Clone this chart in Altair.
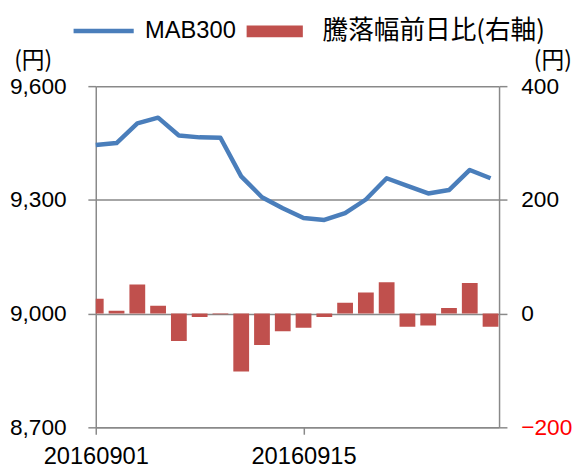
import json
import altair as alt
import pandas as pd

dates = ["20160901", "20160902", "20160905", "20160906", "20160907", "20160908",
         "20160909", "20160912", "20160913", "20160914", "20160915", "20160916",
         "20160920", "20160921", "20160923", "20160926", "20160927", "20160928",
         "20160929", "20160930"]
mab300 = [9445, 9450, 9502, 9517, 9470, 9465, 9464, 9362, 9307, 9278,
          9252, 9247, 9265, 9301, 9357, 9337, 9317, 9326, 9379, 9357]
change = [26, 5, 51, 14, -48, -6, -1, -102, -55, -31,
          -25, -6, 19, 37, 55, -23, -21, 10, 54, -23]
series_line = "MAB300"
series_bar = "騰落幅前日比(右軸)"
left_ticks = [8700, 9000, 9300, 9600]
right_ticks = [-200, 0, 200, 400]
x_label_idx = [0, 10]

BLUE = "#4A7EBB"
RED = "#C0504D"
GRAY = "#898989"
LATIN = "Liberation Sans"
CJK = "Noto Sans CJK JP"

df = pd.DataFrame({
    "idx": list(range(len(dates))),
    "date": dates,
    "mab": mab300,
    "chg": change,
    "zero": [0] * len(dates),
    "s1": [series_line] * len(dates),
    "s2": [series_bar] * len(dates),
})

label_expr = json.dumps(dates) + "[datum.value]"

x_enc = alt.X(
    "idx:Q",
    scale=alt.Scale(domain=[0, 19.41], nice=False, zero=False, padding=0),
    axis=alt.Axis(values=x_label_idx, labelExpr=label_expr, title=None, grid=False,
                  tickSize=7, labelPadding=11, labelFontSize=24, labelFont=LATIN,
                  labelFlush=False, labelOverlap=False),
)

base = alt.Chart(df)

bars = base.mark_bar(size=16, clip=True, color=RED).encode(
    x=x_enc,
    y=alt.Y("chg:Q",
            scale=alt.Scale(domain=[-200, 400], nice=False),
            axis=alt.Axis(orient="right", values=right_ticks, format=".0f", grid=False,
                          tickSize=8, labelPadding=14, title="(円)", titleAngle=0,
                          titleX=54, titleY=-26, titleAlign="center", titleBaseline="middle",
                          labelColor={"condition": {"test": "datum.value < 0", "value": "#FF0000"},
                                      "value": "#000000"})),
    y2="zero:Q",
    fill=alt.Fill("s2:N", scale=alt.Scale(domain=[series_bar], range=[RED]),
                  legend=alt.Legend(orient="none", legendX=153, legendY=-84, title=None,
                                    symbolType="M-1,-0.21H1V0.21H-1Z", symbolSize=3249,
                                    symbolOpacity=1, symbolStrokeWidth=0,
                                    labelFont=CJK, labelFontSize=26, labelOffset=20,
                                    labelLimit=400, labelColor="#000000", padding=0)),
)

line = base.mark_line(strokeWidth=4.5, strokeJoin="round").encode(
    x=x_enc,
    y=alt.Y("mab:Q",
            scale=alt.Scale(domain=[8700, 9600], nice=False, zero=False),
            axis=alt.Axis(orient="left", values=left_ticks, format=",.0f", grid=True,
                          gridColor=GRAY, gridWidth=1.5, tickSize=8, labelPadding=22,
                          title="(円)", titleAngle=0, titleX=-64, titleY=-26,
                          titleAlign="center", titleBaseline="middle")),
    color=alt.Color("s1:N", scale=alt.Scale(domain=[series_line], range=[BLUE]),
                    legend=alt.Legend(orient="none", legendX=-25, legendY=-89, title=None,
                                      symbolType="stroke", symbolSize=3721,
                                      symbolStrokeWidth=4.5, symbolOpacity=1,
                                      labelFont=LATIN, labelFontSize=24, labelOffset=9,
                                      labelLimit=300, labelColor="#000000", padding=0)),
)

chart = (
    alt.layer(bars, line)
    .resolve_scale(y="independent")
    .properties(
        width=409,
        height=346,
        autosize=alt.AutoSizeParams(type="none"),
        padding={"left": 89, "top": 76, "right": 76, "bottom": 40},
    )
    .configure_view(strokeWidth=0)
    .configure_axis(
        domainColor=GRAY, tickColor=GRAY, domainWidth=1.5, tickWidth=1.5,
        labelFont=LATIN, labelFontSize=23, labelColor="#000000",
        titleFont=CJK, titleFontSize=23, titleColor="#000000", titleFontWeight="normal",
    )
)

chart.save("out.html", embed_options={"renderer": "svg", "actions": False})
